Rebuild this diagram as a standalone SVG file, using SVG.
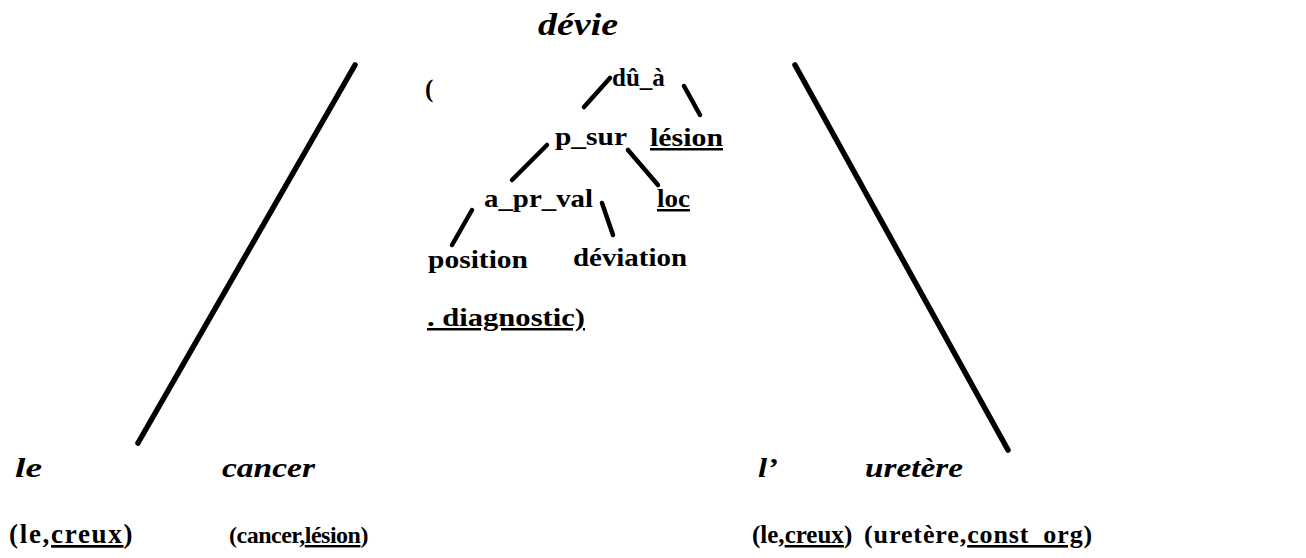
<svg xmlns="http://www.w3.org/2000/svg" width="1306" height="558" viewBox="0 0 1306 558">
<style>
.bg{fill:#ffffff}
text{font-family:"Liberation Serif","Times New Roman",serif;font-weight:bold;fill:#000}
.it{font-style:italic}
.t{font-size:25px}
.w{font-size:28px}
.u{text-decoration:underline}
.c{stroke:#000;stroke-linecap:round;fill:none}
.big{stroke-width:5.5}
.sm{stroke-width:4.5}
</style>
<rect class="bg" x="0" y="0" width="1306" height="558"/>
<g id="connectors">
<line class="c big" x1="355" y1="65" x2="138" y2="443"/>
<line class="c big" x1="795" y1="65" x2="1008" y2="450"/>
<line class="c sm" x1="610" y1="78" x2="584" y2="107"/>
<line class="c sm" x1="684" y1="86" x2="700" y2="115"/>
<line class="c sm" x1="547" y1="145" x2="512" y2="180"/>
<line class="c sm" x1="628" y1="150" x2="658" y2="185"/>
<line class="c sm" x1="472" y1="210" x2="452" y2="245"/>
<line class="c sm" x1="602" y1="203" x2="613" y2="235"/>
</g>
<g id="devie"><text class="it" x="538" y="35" font-size="31" textLength="80" lengthAdjust="spacingAndGlyphs">dévie</text></g>
<g id="paren-open"><text class="t" x="425" y="97">(</text></g>
<g id="du_a"><text class="t" x="612" y="86">dû_à</text></g>
<g id="p_sur"><text class="t" x="555" y="145" textLength="72" lengthAdjust="spacingAndGlyphs">p_sur</text></g>
<g id="lesion"><text class="t u" x="650" y="146" textLength="73" lengthAdjust="spacingAndGlyphs">lésion</text></g>
<g id="a_pr_val"><text class="t" x="484" y="207" textLength="109" lengthAdjust="spacingAndGlyphs">a_pr_val</text></g>
<g id="loc"><text class="t u" x="657" y="207" textLength="33" lengthAdjust="spacingAndGlyphs">loc</text></g>
<g id="position"><text class="t" x="428" y="268" textLength="100" lengthAdjust="spacingAndGlyphs">position</text></g>
<g id="deviation"><text class="t" x="573" y="266" textLength="114" lengthAdjust="spacingAndGlyphs">déviation</text></g>
<g id="diagnostic"><text class="t u" x="427" y="326" textLength="158" lengthAdjust="spacingAndGlyphs">. diagnostic)</text></g>
<g id="w-le">
<text class="it w" x="15" y="477" textLength="27" lengthAdjust="spacingAndGlyphs">le</text>
<text x="9" y="543" font-size="27" letter-spacing="1.7">(le,<tspan class="u">creux</tspan>)</text>
</g>
<g id="w-cancer">
<text class="it w" x="222" y="477" textLength="93" lengthAdjust="spacingAndGlyphs">cancer</text>
<text x="229" y="543" font-size="24" letter-spacing="-0.5">(cancer,<tspan class="u">lésion</tspan>)</text>
</g>
<g id="w-l">
<text class="it w" x="758" y="477" textLength="20" lengthAdjust="spacingAndGlyphs">l’</text>
<text x="752" y="543" font-size="25">(le,<tspan class="u">creux</tspan>)</text>
</g>
<g id="w-uretere">
<text class="it w" x="865" y="477" textLength="98" lengthAdjust="spacingAndGlyphs">uretère</text>
<text x="864" y="543" font-size="26" letter-spacing="0.9">(uretère,<tspan class="u">const_org</tspan>)</text>
</g>
</svg>
